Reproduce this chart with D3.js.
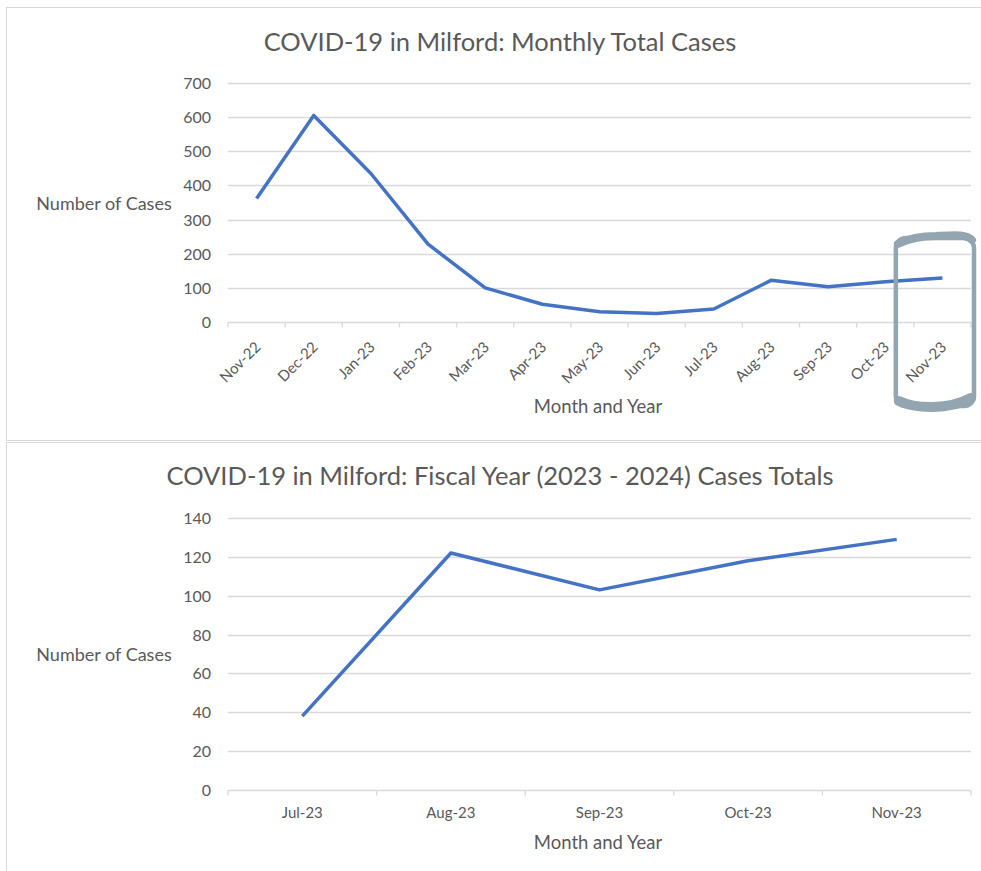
<!DOCTYPE html>
<html>
<head>
<meta charset="utf-8">
<script src="https://cdn.jsdelivr.net/npm/d3@7"></script>
<style>
  body { margin: 0; background: #fff; }
  text { font-family: Lato, "Open Sans", sans-serif; fill: #595959; }
</style>
</head>
<body>
<svg id="chart" width="981" height="871"></svg>
<script>
// Monthly totals, Nov-22 to Nov-23
const months = ["Nov-22", "Dec-22", "Jan-23", "Feb-23", "Mar-23", "Apr-23", "May-23",
  "Jun-23", "Jul-23", "Aug-23", "Sep-23", "Oct-23", "Nov-23"];
const monthlyCases = [362, 605, 435, 228, 100, 52, 30, 25, 38, 122, 103, 118, 129];
const monthlyTicks = [0, 100, 200, 300, 400, 500, 600, 700];

// Fiscal year (2023 - 2024)
const fiscalMonths = ["Jul-23", "Aug-23", "Sep-23", "Oct-23", "Nov-23"];
const fiscalCases = [38, 122, 103, 118, 129];
const fiscalTicks = [0, 20, 40, 60, 80, 100, 120, 140];

const svg = d3.select("#chart");
const lineColor = "#4472C4";
const gridColor = "#d9d9d9";

// panel frames
svg.append("rect").attr("x", 6.5).attr("y", 7.5).attr("width", 990).attr("height", 433)
  .attr("fill", "none").attr("stroke", gridColor);
svg.append("rect").attr("x", 6.5).attr("y", 442.5).attr("width", 990).attr("height", 440)
  .attr("fill", "none").attr("stroke", gridColor);

// draws one line chart into the svg
function drawChart(opts) {
  const g = svg.append("g");
  const x = d3.scaleBand().domain(opts.cats).range([228, 971]);
  const y = d3.scaleLinear().domain([0, d3.max(opts.ticks)]).range([opts.bottom, opts.top]);

  // gridlines
  g.selectAll(".grid")
    .data(opts.ticks.slice(1))
    .join("line")
    .attr("x1", 228).attr("x2", 971)
    .attr("y1", d => Math.round(y(d)) + 0.5)
    .attr("y2", d => Math.round(y(d)) + 0.5)
    .attr("stroke", gridColor).attr("stroke-width", 1.3);

  // y tick labels
  g.selectAll(".ylab")
    .data(opts.ticks)
    .join("text")
    .attr("x", 211)
    .attr("y", d => y(d) + 6)
    .attr("text-anchor", "end")
    .style("font-size", "16px")
    .text(d => d);

  // x axis line + ticks at band edges
  const yb = Math.round(opts.bottom) + 0.5;
  g.append("line").attr("x1", 228).attr("x2", 971).attr("y1", yb).attr("y2", yb)
    .attr("stroke", gridColor).attr("stroke-width", 1.3);
  const edges = opts.cats.map(c => x(c)).concat([971]);
  g.selectAll(".tick")
    .data(edges)
    .join("line")
    .attr("x1", d => d).attr("x2", d => d)
    .attr("y1", yb).attr("y2", yb + 5)
    .attr("stroke", gridColor).attr("stroke-width", 1.3);

  // x tick labels
  const cx = c => x(c) + x.bandwidth() / 2;
  if (opts.rotate) {
    g.selectAll(".xlab")
      .data(opts.cats)
      .join("text")
      .attr("text-anchor", "end")
      .attr("transform", c => `translate(${cx(c) + 5},${opts.bottom + 26}) rotate(-45)`)
      .style("font-size", "15px")
      .text(c => c);
  } else {
    g.selectAll(".xlab")
      .data(opts.cats)
      .join("text")
      .attr("text-anchor", "middle")
      .attr("x", cx)
      .attr("y", opts.bottom + 28)
      .style("font-size", "15px")
      .text(c => c);
  }

  // the series
  const line = d3.line()
    .x((d, i) => cx(opts.cats[i]))
    .y(d => y(d));
  g.append("path")
    .datum(opts.values)
    .attr("d", line)
    .attr("fill", "none")
    .attr("stroke", lineColor)
    .attr("stroke-width", 3.5)
    .attr("stroke-linejoin", "round");

  // titles
  g.append("text").attr("x", 500).attr("y", opts.titleY)
    .attr("text-anchor", "middle").style("font-size", "25.5px").text(opts.title);
  g.append("text").attr("x", 104).attr("y", opts.ylabY)
    .attr("text-anchor", "middle").style("font-size", "18px").text("Number of Cases");
  g.append("text").attr("x", 598).attr("y", opts.xlabY)
    .attr("text-anchor", "middle").style("font-size", "18.5px").text("Month and Year");

  return { x, y };
}

const monthlyChart = drawChart({
  cats: months, values: monthlyCases, ticks: monthlyTicks,
  top: 83, bottom: 322, rotate: true,
  title: "COVID-19 in Milford: Monthly Total Cases",
  titleY: 51, ylabY: 210, xlabY: 413
});

drawChart({
  cats: fiscalMonths, values: fiscalCases, ticks: fiscalTicks,
  top: 518, bottom: 790, rotate: false,
  title: "COVID-19 in Milford: Fiscal Year (2023 - 2024) Cases Totals",
  titleY: 485, ylabY: 661, xlabY: 849
});

// hand-drawn highlight around the last month
const bx = monthlyChart.x("Nov-23");
const bw = monthlyChart.x.bandwidth();
const L = bx - 18, R = bx + bw + 3;
const hl = svg.append("g").attr("fill", "none").attr("stroke", "#93a5b1")
  .attr("stroke-linecap", "round").attr("stroke-linejoin", "round");
hl.append("rect")
  .attr("x", L).attr("y", 238).attr("width", R - L).attr("height", 168)
  .attr("rx", 10).attr("stroke-width", 4.5);
hl.append("path")
  .attr("d", `M${L + 2},244 C${L + 14},238 ${L + 25},236 ${L + 40},236 C${L + 60},235 ${R - 8},234 ${R - 2},240`)
  .attr("stroke-width", 8);
hl.append("path")
  .attr("d", `M${L + 3},401 C${L + 20},409 ${R - 25},410 ${R - 3},398`)
  .attr("stroke-width", 10);
</script>
</body>
</html>
